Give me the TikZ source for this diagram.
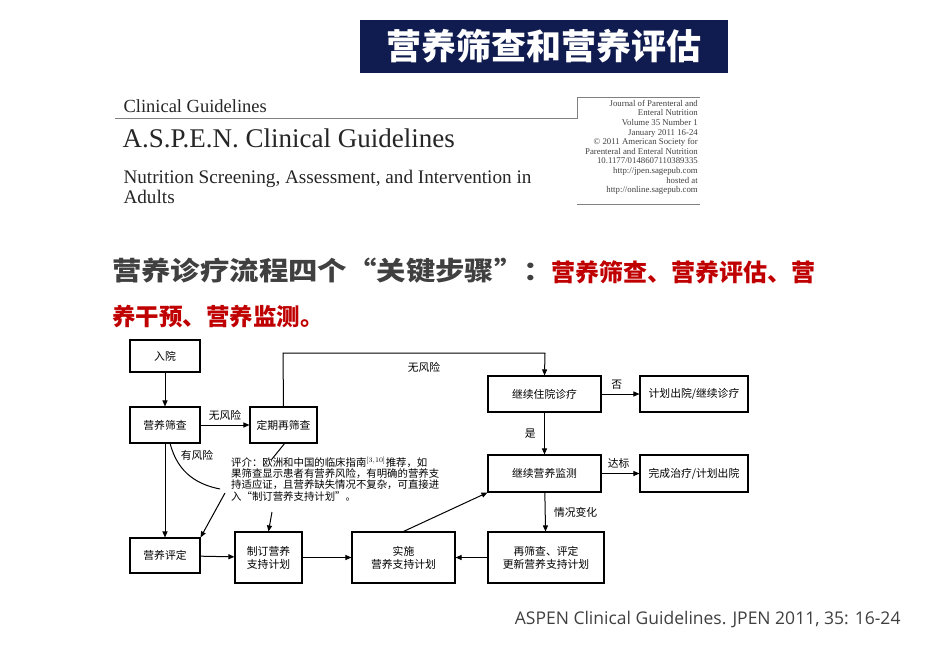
\documentclass[tikz,border=0pt]{standalone}
\usepackage{fontspec}
\setmainfont{Liberation Serif}
\newfontfamily\cjk{Noto Sans CJK SC}
\newfontfamily\lsans{Open Sans}
\usetikzlibrary{arrows.meta}
\definecolor{navy}{HTML}{101C50}
\definecolor{darkred}{HTML}{C00000}
\definecolor{txtgray}{HTML}{404040}
\begin{document}
\begin{tikzpicture}[x=1pt,y=-1pt,
  box/.style={draw,line width=1.1pt,minimum width=#1,inner sep=1pt,font=\cjk\fontsize{10.8}{13}\selectfont,align=center},
  box/.default=70pt,
  arr/.style={line width=1pt,-{Triangle[length=6pt,width=5pt]}},
  lab/.style={font=\cjk\fontsize{10.8}{13}\selectfont}]
\useasboundingbox (0,0) rectangle (950,658);
\fill[white] (0,0) rectangle (950,658);
% title
\node[fill=navy,text=white,minimum width=368pt,minimum height=53pt,inner sep=0pt,font=\cjk\bfseries\fontsize{35}{38}\selectfont] (title) at (544,46.5) {营养筛查和营养评估};
% header image
\draw[gray,line width=0.8pt] (115,118) -- (577,118) -- (577,97) -- (700,97);
\draw[gray,line width=0.8pt] (577,204) -- (700,204);
\node[anchor=west,font=\fontsize{18.5}{20}\selectfont,text=black!85] (cg) at (120,106) {Clinical Guidelines};
\node[anchor=west,font=\fontsize{27}{29}\selectfont,text=black!85] (aspen) at (119,138) {A.S.P.E.N. Clinical Guidelines};
\node[anchor=west,font=\fontsize{19.2}{20}\selectfont,text=black!85,align=left] (sub) at (120,187) {Nutrition Screening, Assessment, and Intervention in\\Adults};
\node[anchor=north east,font=\fontsize{8.8}{9.6}\selectfont,text=black!75,align=right,inner sep=0pt] (jr) at (698,100) {Journal of Parenteral and\\Enteral Nutrition\\Volume 35 Number 1\\January 2011 16-24\\\textcopyright{} 2011 American Society for\\Parenteral and Enteral Nutrition\\10.1177/0148607110389335\\http://jpen.sagepub.com\\hosted at\\http://online.sagepub.com};
% heading
\node[anchor=west,font=\cjk\bfseries\fontsize{26}{28}\selectfont,text=txtgray,inner sep=0pt] (h1) at (112,271) {\scalebox{1.13}[1]{营养诊疗流程四个“关键步骤”：}};
\node[anchor=west,font=\cjk\bfseries\fontsize{24}{28}\selectfont,text=darkred,inner sep=0pt] (h1r) at (551,272) {营养筛查、营养评估、营};
\node[anchor=west,font=\cjk\bfseries\fontsize{23.5}{28}\selectfont,text=darkred,inner sep=0pt] (h2) at (112,317) {养干预、营养监测。};
% flowchart
\node[box,minimum height=32pt] (ry) at (165,356) {入院};
\node[box,minimum height=36pt] (sc) at (165,425) {营养筛查};
\node[box=67pt,minimum height=36pt] (dq) at (283.5,425) {定期再筛查};
\node[box,minimum height=35pt] (pd) at (165,555.5) {营养评定};
\node[box=67pt,minimum height=51pt] (zd) at (268.5,557.5) {制订营养\\支持计划};
\node[box=103pt,minimum height=51pt] (ss) at (403.5,557.5) {实施\\营养支持计划};
\node[box=116pt,minimum height=51pt] (rs) at (546,557.5) {再筛查、评定\\更新营养支持计划};
\node[box=113pt,minimum height=36pt] (jz) at (544.5,394) {继续住院诊疗};
\node[box=108pt,minimum height=36pt] (jh) at (694,394) {计划出院/继续诊疗};
\node[box=113pt,minimum height=37pt] (jj) at (544.5,473.5) {继续营养监测};
\node[box=108pt,minimum height=37pt] (wc) at (694,473.5) {完成治疗/计划出院};
\coordinate (tl) at (283,353); \coordinate (tr) at (545,353);
\draw[line width=1pt] (dq.north) -- (tl) -- (tr);
\draw[arr] (tr) -- (jz.north);
\node[lab] (nr1) at (424,367) {无风险};
\draw[arr] (ry) -- (sc);
\draw[arr] (sc) -- node[lab,above=1pt]{无风险} (dq);
\draw[arr] (sc.south) -- (pd.north);
\node[lab] (yr) at (197,455) {有风险};
\node[font=\cjk\fontsize{10.4}{11.4}\selectfont,align=left,anchor=north west,inner sep=0pt] (cm) at (231,457) {评介：欧洲和中国的临床指南$^{[3,10]}$推荐，如\\果筛查显示患者有营养风险，有明确的营养支\\持适应证，且营养缺失情况不复杂，可直接进\\入“制订营养支持计划”。};
\coordinate (cl) at (220,489);
\draw[line width=1pt] (170,443) .. controls (178,475) and (200,485) .. (cl);
\draw[arr] (225,493) -- (pd.north east);
\draw[line width=1pt] (285,443) -- (272,459);
\draw[arr] (272,512) -- (zd.north);
\draw[arr] (pd) -- (zd);
\draw[arr] (zd) -- (ss);
\draw[arr] (rs) -- (ss);
\draw[arr] (ss.north) -- (jj.south west);
\draw[arr] (jz) -- node[lab,above=1pt,pos=0.4]{否} (jh);
\draw[arr] (jz) -- node[lab,left=5pt]{是} (jj);
\draw[arr] (jj) -- node[lab,above=1pt,pos=0.45]{达标} (wc);
\draw[arr] (jj) -- node[lab,right=5pt]{情况变化} (rs);
% footer
\node[anchor=east,font=\lsans\fontsize{17.5}{20}\selectfont,text=txtgray] (ft) at (904,619) {ASPEN Clinical Guidelines. JPEN 2011, 35: 16-24};
\end{tikzpicture}
\end{document}
